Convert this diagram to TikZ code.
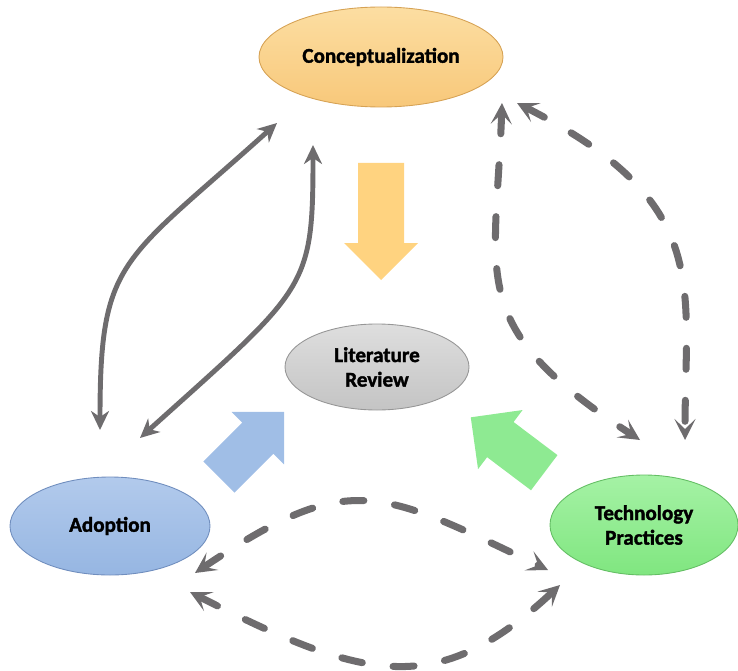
\documentclass[tikz,border=0pt]{standalone}
\usepackage{fontspec}
\setmainfont{Carlito}
\newfontfamily\heavyfont{Carlito Bold}[FakeBold=1.6]
\usepackage{tikz}
\usetikzlibrary{shapes.geometric, arrows.meta}

\definecolor{linegray}{RGB}{110,108,110}
\definecolor{conctop}{RGB}{252,222,162}
\definecolor{concbot}{RGB}{248,200,122}
\definecolor{litop}{RGB}{222,222,222}
\definecolor{libot}{RGB}{196,196,196}
\definecolor{adtop}{RGB}{178,202,236}
\definecolor{adbot}{RGB}{150,182,226}
\definecolor{tetop}{RGB}{165,242,165}
\definecolor{tebot}{RGB}{128,230,128}

\tikzset{
    % block arrow: #1 = length, #2 = shaft width
    pics/bigarrow/.style 2 args={code={
        \fill ({-#1/2},{-#2/2}) -- ({#1/2-0.74},{-#2/2}) -- ({#1/2-0.74},-0.74) -- ({#1/2},0)
            -- ({#1/2-0.74},0.74) -- ({#1/2-0.74},{#2/2}) -- ({-#1/2},{#2/2}) -- cycle;
    }}
}

\begin{document}
\begin{tikzpicture}[
    bubble/.style={ellipse, draw, line width=0.5pt, inner sep=0pt, align=center,
        font=\heavyfont\fontsize{12}{14}\selectfont},
    link/.style={draw=linegray, line width=2.8pt, >={Stealth[length=0.38cm, width=0.36cm, inset=0.12cm]}, <->},
    dlink/.style={draw=linegray, line width=4pt, line cap=round, dash pattern=on 0.42cm off 0.62cm,
        >={Stealth[length=0.42cm, width=0.42cm, inset=0.2cm]}, <->}
]
    \useasboundingbox (0,0) rectangle (14.76,-13.4);

    \node[bubble, minimum width=4.88cm, minimum height=2cm, draw={rgb,255:red,214;green,162;blue,84},
        top color=conctop, bottom color=concbot](concept)   at (7.62,-1.14)  {Conceptualization};
    \node[bubble, minimum width=3.68cm, minimum height=1.72cm, draw={rgb,255:red,150;green,150;blue,150},
        top color=litop, bottom color=libot](litrev)        at (7.54,-7.34)  {Literature\\Review};
    \node[bubble, minimum width=4cm, minimum height=1.96cm, draw={rgb,255:red,112;green,142;blue,190},
        top color=adtop, bottom color=adbot](adopt)         at (2.2,-10.52)  {Adoption};
    \node[bubble, minimum width=3.76cm, minimum height=2cm, draw={rgb,255:red,100;green,190;blue,100},
        top color=tetop, bottom color=tebot](techp)         at (12.88,-10.5) {Technology\\Practices};

    % big arrows into the review
    \pic[rotate=-90, fill={rgb,255:red,255;green,211;blue,128}] (conc_arr)  at (7.62,-4.43) {bigarrow={2.34}{0.92}};
    \pic[rotate=45,  fill={rgb,255:red,160;green,190;blue,230}] (adopt_arr) at (5.03,-8.89) {bigarrow={1.84}{0.88}};
    \pic[rotate=143, fill={rgb,255:red,142;green,234;blue,146}] (techp_arr) at (10.15,-8.9) {bigarrow={1.84}{0.88}};

    % arrow ends
    \coordinate (adopt_c1) at (2.0,-8.6);
    \coordinate (c_adopt1) at (5.54,-2.46);
    \coordinate (adopt_c2) at (2.8,-8.76);
    \coordinate (c_adopt2) at (6.26,-2.9);
    \coordinate (c_techp1) at (10.34,-2.06);
    \coordinate (techp_c1) at (13.7,-8.8);
    \coordinate (c_techp2) at (10.04,-2.06);
    \coordinate (techp_c2) at (12.8,-8.8);
    \coordinate (adopt_t1) at (3.9,-11.46);
    \coordinate (techp_a1) at (10.96,-11.4);
    \coordinate (adopt_t2) at (3.8,-11.84);
    \coordinate (techp_a2) at (11.2,-11.7);

    \path
        (adopt_c1)
            edge [link, out=90, in=222, out distance=3.44cm, in distance=4.2cm] (c_adopt1)
        (adopt_c2)
            edge [link, out=42, in=270, out distance=4.5cm, in distance=2.9cm] (c_adopt2)
        (c_techp1)
            edge [dlink, out=-27, in=90, out distance=4.4cm, in distance=3.15cm] (techp_c1)
        (c_techp2)
            edge [dlink, out=268, in=147, out distance=3.55cm, in distance=4.2cm] (techp_c2)
        (adopt_t1)
            edge [dlink, out=34, in=154.5, out distance=3.75cm, in distance=3.75cm] (techp_a1)
        (adopt_t2)
            edge [dlink, out=-27, in=223, out distance=3.95cm, in distance=3.36cm] (techp_a2)
        ;
\end{tikzpicture}
\end{document}
